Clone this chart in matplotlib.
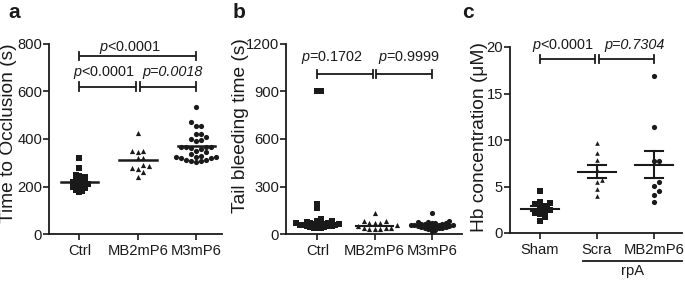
import numpy as np
import matplotlib
matplotlib.use("Agg")
import matplotlib.pyplot as plt
import matplotlib.transforms as mtransforms

plt.rcParams['font.family'] = ['Liberation Sans', 'DejaVu Sans']
plt.rcParams['mathtext.fontset'] = 'custom'
plt.rcParams['mathtext.rm'] = 'Liberation Sans'
plt.rcParams['mathtext.it'] = 'Liberation Sans:italic'

# ---------------- data ----------------
groups_ab = ["Ctrl", "MB2mP6", "M3mP6"]
occl_ctrl = [321, 279, 248, 245, 240, 238, 232, 228, 225, 220, 218, 215, 212,
             210, 208, 205, 202, 200, 198, 195, 192, 188, 185, 180, 175]
occl_mb2 = [426, 348, 350, 346, 322, 320, 292, 285, 280, 275, 262, 241]
occl_m3 = [536, 473, 455, 455, 421, 421, 407, 400, 396, 392, 365, 365, 362, 368,
           365, 360, 346, 348, 337, 325, 326, 328, 322, 325, 320, 307, 310, 308,
           305, 312]

bleed_ctrl = [900, 900, 190, 165, 95, 85, 80, 75, 72, 70, 68, 66, 65, 63, 62, 60,
              58, 56, 55, 52, 50, 48, 45, 42, 40, 38, 35]
bleed_mb2 = [132, 85, 83, 72, 70, 68, 55, 50, 40, 38, 35, 33, 32, 30]
bleed_m3 = [130, 80, 78, 75, 72, 70, 68, 66, 64, 62, 60, 58, 56, 55, 54, 52, 50,
            48, 46, 44, 42, 40, 38, 35, 30, 25, 20]

groups_c = ["Sham", "Scra", "MB2mP6"]
hb_sham = [4.5, 3.3, 3.2, 3.1, 2.9, 2.7, 2.5, 2.3, 2.1, 2.0, 1.7, 1.3]
hb_scra = [9.7, 8.6, 7.9, 6.8, 5.7, 5.45, 4.7, 4.0]
hb_mb2 = [16.9, 11.4, 7.75, 7.7, 5.45, 5.1, 4.55, 4.05, 3.37]

ticks_a = [0, 200, 400, 600, 800]
ticks_b = [0, 300, 600, 900, 1200]
ticks_c = [0, 5, 10, 15, 20]

# ---------------- figure ----------------
W, H = 685, 281
fig = plt.figure(figsize=(W / 100, H / 100), dpi=100)


def add_axes_px(x0, x1, ytop, ybot):
    return fig.add_axes([x0 / W, 1 - ybot / H, (x1 - x0) / W, (ybot - ytop) / H])


INK = "#1a1a1a"
TICK_FS = 10.6
P_FS = 10.4
LAB_FS = 13.8


def style(ax, xlim, ylim, yticks, xlabels):
    ax.set_xlim(*xlim)
    ax.set_ylim(*ylim)
    ax.set_yticks(yticks)
    ax.set_xticks(range(len(xlabels)))
    ax.set_xticklabels(xlabels, fontsize=TICK_FS)
    ax.tick_params(axis='y', labelsize=TICK_FS, length=4, width=1.2, pad=1, colors=INK)
    ax.tick_params(axis='x', length=4, width=1.2, pad=3, colors=INK)
    for s in ["top", "right"]:
        ax.spines[s].set_visible(False)
    for s in ["left", "bottom"]:
        ax.spines[s].set_linewidth(1.3)
        ax.spines[s].set_color(INK)


def swarm_offsets(ax, vals, size_px, frac=0.62):
    fig.canvas.draw()
    tr = ax.transData
    ys = [tr.transform((0, v))[1] for v in vals]
    px_per_x = tr.transform((1, 0))[0] - tr.transform((0, 0))[0]
    order = np.argsort(ys)
    placed = []
    offs = np.zeros(len(vals))
    dmin = size_px * frac
    step = dmin
    for i in order:
        y = ys[i]
        k = 0
        while True:
            cands = [0.0] if k == 0 else [k * step, -k * step]
            ok = None
            for c in cands:
                if all((c - px) ** 2 + (y - py) ** 2 >= dmin ** 2 for px, py in placed):
                    ok = c
                    break
            if ok is not None:
                placed.append((ok, y))
                offs[i] = ok / px_per_x
                break
            k += 1
    return offs


def scatter_group(ax, xpos, vals, marker, ms, size_px, frac=0.62):
    offs = swarm_offsets(ax, vals, size_px, frac)
    ax.scatter(xpos + offs, vals, marker=marker, s=ms, color=INK, linewidths=0, zorder=3)


def bracket(ax, x0, x1, y, tick):
    ax.plot([x0, x1], [y, y], color=INK, lw=1.3, solid_capstyle='butt', clip_on=False)
    for xx in (x0, x1):
        ax.plot([xx, xx], [y - tick, y + tick], color=INK, lw=1.3, clip_on=False)


def ylabel_px(text, x, y):
    fig.text(x / W, 1 - y / H, text, rotation=90, rotation_mode='anchor',
             ha='center', va='baseline', fontsize=LAB_FS, color=INK)


markers = ['s', '^', 'o']
msizes = [15, 14, 14]

# ---------------- panel a ----------------
ax_a = add_axes_px(49, 222, 44, 234)
style(ax_a, (-0.52, 2.44), (0, 800), ticks_a, groups_ab)
data_a = [occl_ctrl, occl_mb2, occl_m3]
for i, vals in enumerate(data_a):
    scatter_group(ax_a, i, vals, markers[i], msizes[i], 5.5, [0.55, 1.0, 0.9][i])
    ax_a.plot([i - 0.32, i + 0.32], [np.mean(vals)] * 2, color=INK, lw=1.8, zorder=4)
ylabel_px("Time to Occlusion (s)", 13.5, 133)
bracket(ax_a, 0, 2, 750, 18)
bracket(ax_a, 0, 0.97, 620, 18)
bracket(ax_a, 1.03, 2, 620, 18)
ax_a.text(0.87, 787, r"$\mathit{p}$<0.0001", ha='center', va='center', fontsize=P_FS, color=INK)
ax_a.text(0.43, 682, r"$\mathit{p}$<0.0001", ha='center', va='center', fontsize=P_FS, color=INK)
ax_a.text(1.59, 682, "p=0.0018", ha='center', va='center', fontsize=P_FS, style='italic', color=INK)
fig.text(8 / W, 1 - 12 / H, "a", fontsize=15, fontweight='bold', ha='left', va='center', color=INK)

# ---------------- panel b ----------------
ax_b = add_axes_px(286, 462, 44, 234)
style(ax_b, (-0.55, 2.53), (0, 1200), ticks_b, groups_ab)
data_b = [bleed_ctrl, bleed_mb2, bleed_m3]
for i, vals in enumerate(data_b):
    scatter_group(ax_b, i, vals, markers[i], msizes[i], 5.5, [0.64, 1.0, 0.64][i])
    ax_b.plot([i - 0.32, i + 0.32], [np.median(vals)] * 2, color=INK, lw=1.5, zorder=4)
ylabel_px("Tail bleeding time (s)", 245, 126)
bracket(ax_b, 0, 0.97, 1010, 27)
bracket(ax_b, 1.03, 2, 1010, 27)
ax_b.text(0.25, 1112, r"$\mathit{p}$=0.1702", ha='center', va='center', fontsize=P_FS, color=INK)
ax_b.text(1.6, 1112, r"$\mathit{p}$=0.9999", ha='center', va='center', fontsize=P_FS, color=INK)
fig.text(233 / W, 1 - 12 / H, "b", fontsize=15, fontweight='bold', ha='left', va='center', color=INK)

# ---------------- panel c ----------------
ax_c = add_axes_px(510, 682, 47, 233)
style(ax_c, (-0.526, 2.49), (0, 20), ticks_c, groups_c)
data_c = [hb_sham, hb_scra, hb_mb2]
for i, vals in enumerate(data_c):
    scatter_group(ax_c, i, vals, markers[i], [13, 11, 14][i], 5.0, 1.0)
    m = np.mean(vals)
    sem = np.std(vals, ddof=1) / np.sqrt(len(vals))
    ax_c.plot([i - 0.33, i + 0.33], [m, m], color=INK, lw=1.5, zorder=4)
    ax_c.plot([i - 0.16, i + 0.16], [m + sem] * 2, color=INK, lw=1.5, zorder=4)
    ax_c.plot([i - 0.16, i + 0.16], [m - sem] * 2, color=INK, lw=1.5, zorder=4)
    ax_c.plot([i, i], [m - sem, m + sem], color=INK, lw=1.5, zorder=4)
ylabel_px("Hb concentration (\u03bcM)", 484, 137)
bracket(ax_c, 0, 0.97, 18.7, 0.45)
bracket(ax_c, 1.03, 2, 18.7, 0.45)
ax_c.text(0.40, 20.2, r"$\mathit{p}$<0.0001", ha='center', va='center', fontsize=P_FS, color=INK)
ax_c.text(1.65, 20.2, "p=0.7304", ha='center', va='center', fontsize=P_FS, style='italic', color=INK)
trans = mtransforms.blended_transform_factory(ax_c.transData, ax_c.transAxes)
ax_c.plot([0.75, 2.49], [-0.153, -0.153], color=INK, lw=1.3, transform=trans, clip_on=False)
ax_c.text(1.62, -0.168, "rpA", ha='center', va='top', fontsize=TICK_FS, transform=trans, color=INK)
fig.text(462 / W, 1 - 12 / H, "c", fontsize=15, fontweight='bold', ha='left', va='center', color=INK)

fig.savefig("out.png", dpi=100)
